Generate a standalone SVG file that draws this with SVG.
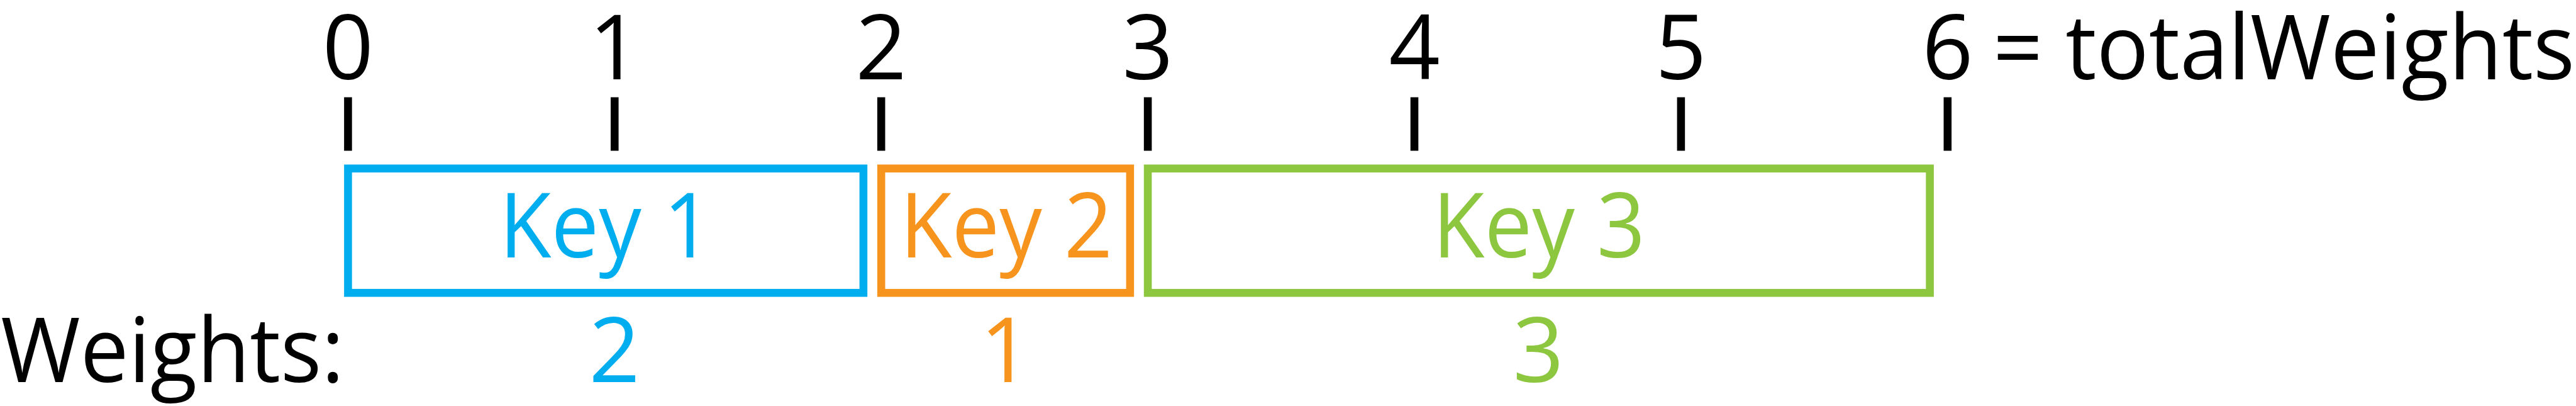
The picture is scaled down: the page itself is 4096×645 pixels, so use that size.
<svg xmlns="http://www.w3.org/2000/svg" width="4096" height="645" viewBox="0 0 4096 645">
  <style>
    .t { font-family: "Open Sans", "Noto Sans", "Liberation Sans", sans-serif; font-size: 142px; }
    .k { fill: #000000; }
    .tick { stroke: #000000; stroke-width: 12.56; }
    .box { fill: #ffffff; stroke-width: 12.56; }
    .blue { fill: #00AEEF; }
    .orange { fill: #F7941D; }
    .green { fill: #8DC63F; }
  </style>
  <rect x="0" y="0" width="4096" height="645" fill="#ffffff"/>

  <g id="axis">
    <g id="ticks">
      <line class="tick" x1="553.4" y1="154.6" x2="553.4" y2="239.4"/>
      <line class="tick" x1="977.3" y1="154.6" x2="977.3" y2="239.4"/>
      <line class="tick" x1="1401.2" y1="154.6" x2="1401.2" y2="239.4"/>
      <line class="tick" x1="1825.1" y1="154.6" x2="1825.1" y2="239.4"/>
      <line class="tick" x1="2249.0" y1="154.6" x2="2249.0" y2="239.4"/>
      <line class="tick" x1="2672.9" y1="154.6" x2="2672.9" y2="239.4"/>
      <line class="tick" x1="3096.8" y1="154.6" x2="3096.8" y2="239.4"/>
    </g>
    <g id="tick-labels" class="t k" text-anchor="middle">
      <text x="553.4" y="126.4">0</text>
      <text x="977.3" y="126.4">1</text>
      <text x="1401.2" y="126.4">2</text>
      <text x="1825.1" y="126.4">3</text>
      <text x="2249.0" y="126.4">4</text>
      <text x="2672.9" y="126.4">5</text>
      <text x="3096.8" y="126.4">6</text>
    </g>
    <text id="total-label" class="t k" x="3169" y="126.4" textLength="925" lengthAdjust="spacingAndGlyphs">= totalWeights</text>
  </g>

  <g id="key1">
    <rect class="box" x="553.4" y="267.7" width="819.5" height="197.6" stroke="#00AEEF"/>
    <text class="t blue" x="963" y="409" text-anchor="middle" textLength="338" lengthAdjust="spacingAndGlyphs">Key 1</text>
  </g>
  <g id="key2">
    <rect class="box" x="1401.2" y="267.7" width="395.7" height="197.6" stroke="#F7941D"/>
    <text class="t orange" x="1600" y="409" text-anchor="middle" textLength="338" lengthAdjust="spacingAndGlyphs">Key 2</text>
  </g>
  <g id="key3">
    <rect class="box" x="1825.1" y="267.7" width="1243.5" height="197.6" stroke="#8DC63F"/>
    <text class="t green" x="2447" y="409" text-anchor="middle" textLength="338" lengthAdjust="spacingAndGlyphs">Key 3</text>
  </g>

  <g id="weights">
    <text class="t k" x="1.3" y="606.8" textLength="546" lengthAdjust="spacingAndGlyphs">Weights:</text>
    <text class="t blue" x="977" y="606.8" text-anchor="middle">2</text>
    <text class="t orange" x="1599" y="606.8" text-anchor="middle">1</text>
    <text class="t green" x="2446" y="606.8" text-anchor="middle">3</text>
  </g>

  <g id="connectors"></g>
</svg>
